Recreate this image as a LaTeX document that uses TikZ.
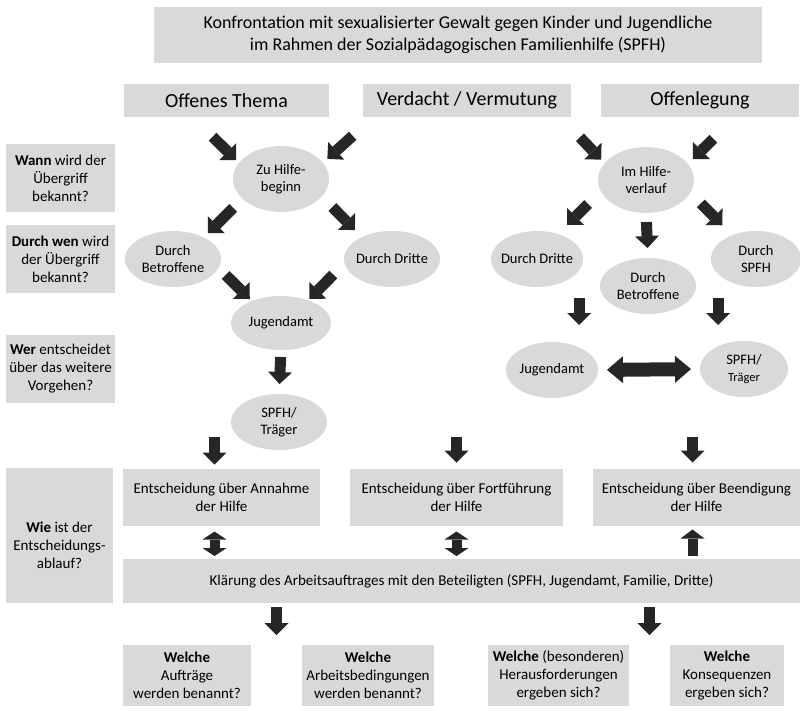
\documentclass[tikz,border=0pt]{standalone}
\usepackage{fontspec}
\setmainfont{Carlito}
\usetikzlibrary{shapes.geometric,arrows.meta,calc}

\definecolor{boxgray}{RGB}{217,217,217}
\definecolor{arrowgray}{RGB}{38,38,38}

\tikzset{
  greybox/.style={rectangle, fill=boxgray, inner sep=0pt, outer sep=0pt, align=center, font=\fontsize{15}{18}\selectfont},
  bubble/.style={ellipse, fill=boxgray, inner xsep=-5pt, inner ysep=0pt, outer sep=0pt, align=center, font=\fontsize{14.5}{17.5}\selectfont},
  blockarrow/.style={draw=arrowgray, line width=11pt, -{Triangle[width=24pt,length=12pt,line width=0pt]}},
  dblarrow/.style={draw=arrowgray, line width=10pt, {Triangle[width=24pt,length=8pt,line width=0pt]}-{Triangle[width=24pt,length=8pt,line width=0pt]}},
  uparrow/.style={draw=arrowgray, line width=10pt, -{Triangle[width=24pt,length=9pt,line width=0pt]}},
  bigdblarrow/.style={draw=arrowgray, line width=14pt, {Triangle[width=27pt,length=16pt,line width=0pt]}-{Triangle[width=27pt,length=16pt,line width=0pt]}}
}

\begin{document}
\begin{tikzpicture}[x=1pt, y=-1pt]
\useasboundingbox (0,0) rectangle (800,710);

\node [greybox, font=\fontsize{18}{22}\selectfont, minimum width=608, minimum height=56] (title) at (458,35)
  {Konfrontation mit sexualisierter Gewalt gegen Kinder und Jugendliche\\im Rahmen der Sozialpädagogischen Familienhilfe (SPFH)};

\node [greybox, font=\fontsize{20}{24}\selectfont, minimum width=205, minimum height=33] (head-1) at (226.5,100.5) {Offenes Thema};
\node [greybox, font=\fontsize{20}{24}\selectfont, minimum width=208, minimum height=33] (head-2) at (467,100.5) {Verdacht / Vermutung};
\node [greybox, font=\fontsize{20}{24}\selectfont, minimum width=198, minimum height=33] (head-3) at (700,100.5) {Offenlegung};

\foreach \y/\t [count=\i] in {178/{\textbf{Wann} wird der\\Übergriff\\bekannt?},
                              259/{\textbf{Durch wen} wird\\der Übergriff\\bekannt?},
                              368.5/{\textbf{Wer} entscheidet\\über das weitere\\Vorgehen?}}
  \node [greybox, minimum width=109, minimum height=68] (question-\i) at (60.5,\y) {\t};
\node [greybox, minimum width=107, minimum height=135, text height=66pt] (question-4) at (59.5,535.5) {\textbf{Wie} ist der\\Entscheidungs-\\ablauf?};

\node [bubble, minimum width=96, minimum height=66] (hilfebeginn) at (281,179) {Zu Hilfe-\\beginn};
\node [bubble, minimum width=96, minimum height=56] (betroffene-l) at (173,259) {Durch\\Betroffene};
\node [bubble, minimum width=96, minimum height=56] (dritte-l) at (392,259) {Durch Dritte};
\node [bubble, minimum width=100, minimum height=54] (jugendamt-l) at (281,323) {Jugendamt};
\node [bubble, minimum width=96, minimum height=56] (traeger-l) at (279,422) {SPFH/\\Träger};

\node [bubble, minimum width=96, minimum height=66] (hilfeverlauf) at (646,180) {Im Hilfe-\\verlauf};
\node [bubble, minimum width=92, minimum height=56] (dritte-r) at (537,259) {Durch Dritte};
\node [bubble, minimum width=96, minimum height=56] (betroffene-r) at (648,286) {Durch\\Betroffene};
\node [bubble, minimum width=90, minimum height=56] (spfh-r) at (756,259) {Durch\\SPFH};
\node [bubble, minimum width=92, minimum height=56] (jugendamt-r) at (552,370) {Jugendamt};
\node [bubble, minimum width=88, minimum height=56] (traeger-r) at (744,369) {SPFH/\\{\fontsize{12.5}{14}\selectfont Träger}};

\foreach \x/\w/\t [count=\i] in {221.5/197/Annahme, 456.5/213/Fortführung, 696.5/207/Beendigung}
  \node [greybox, minimum width=\w, minimum height=57] (decision-\i) at (\x,497) {Entscheidung über \t\\der Hilfe};

\node [greybox, minimum width=677, minimum height=44] (clarify) at (461.5,581)
  {Klärung des Arbeitsauftrages mit den Beteiligten (SPFH, Jugendamt, Familie, Dritte)};

\foreach \x/\w/\t [count=\i] in {187/128/{\textbf{Welche}\\Aufträge\\werden benannt?},
                                 368/132/{\textbf{Welche}\\Arbeitsbedingungen\\werden benannt?},
                                 558.5/141/{\textbf{Welche} (besonderen)\\Herausforderungen\\ergeben sich?},
                                 727/114/{\textbf{Welche}\\Konsequenzen\\ergeben sich?}}
  \node [greybox, minimum width=\w, minimum height=61] (result-\i) at (\x,675.5) {\t};

\draw [blockarrow, shorten <=28pt, shorten >=4pt] (head-1.206) -- (hilfebeginn.159);
\draw [blockarrow, shorten <=28pt, shorten >=6pt] (head-2.190) -- (hilfebeginn.21);
\draw [blockarrow, shorten <=13pt, shorten >=6pt] (hilfebeginn.207) -- (betroffene-l.35);
\draw [blockarrow, shorten <=15pt, shorten >=10pt] (hilfebeginn.337) -- (dritte-l.144);
\draw [blockarrow, shorten <=10pt, shorten >=3pt] (betroffene-l.349) -- (jugendamt-l.143);
\draw [blockarrow, shorten <=16pt, shorten >=2pt] (dritte-l.185) -- (jugendamt-l.40);
\draw [blockarrow, shorten <=7pt, shorten >=10pt] (jugendamt-l.south) -- (traeger-l.north);

\draw [blockarrow, shorten <=28pt, shorten >=5pt] (head-2.350) -- (hilfeverlauf.158);
\draw [blockarrow, shorten <=31pt, shorten >=7pt] (head-3.335) -- (hilfeverlauf.21);
\draw [blockarrow, shorten <=18pt, shorten >=13pt] (hilfeverlauf.194) -- (dritte-r.50);
\draw [blockarrow, shorten <=9pt, shorten >=10pt] (hilfeverlauf.south) -- (betroffene-r.north);
\draw [blockarrow, shorten <=15pt, shorten >=14pt] (hilfeverlauf.344) -- (spfh-r.135);
\draw [blockarrow, shorten <=11pt, shorten >=17pt] ($(jugendamt-r.north |- dritte-r.south)+(27,0)$) -- ($(jugendamt-r.north)+(27,0)$);
\draw [blockarrow, shorten <=11pt, shorten >=16pt] ($(traeger-r.north |- spfh-r.south)+(-26,0)$) -- ($(traeger-r.north)+(-26,0)$);
\draw [bigdblarrow, shorten <=9pt, shorten >=9pt] (jugendamt-r.east) -- (traeger-r.west);

\draw [blockarrow, shorten >=4pt] ($(decision-1.north |- traeger-l.200)+(-7,0)$) -- ($(decision-1.north)+(-7,0)$);
\draw [blockarrow, shorten >=6pt] (decision-2.north |- traeger-l.200) -- (decision-2.north);
\draw [blockarrow, shorten >=6pt] ($(decision-3.north |- traeger-l.200)+(-4,0)$) -- ($(decision-3.north)+(-4,0)$);

\draw [dblarrow, shorten <=6pt, shorten >=3pt] ($(decision-1.south)+(-7,0)$) -- ($(decision-1.south |- clarify.north)+(-7,0)$);
\draw [dblarrow, shorten <=6pt, shorten >=3pt] (decision-2.south) -- (decision-2.south |- clarify.north);
\draw [uparrow, shorten <=3pt, shorten >=4pt] ($(decision-3.south |- clarify.north)+(-4,0)$) -- ($(decision-3.south)+(-4,0)$);

\coordinate (split-1) at ($(result-1.north east)!.5!(result-2.north west)$);
\coordinate (split-2) at ($(result-3.north east)!.5!(result-4.north west)$);
\draw [blockarrow, shorten <=4pt, shorten >=10pt] (clarify.south -| split-1) -- (split-1);
\draw [blockarrow, shorten <=4pt, shorten >=10pt] (clarify.south -| split-2) -- (split-2);

\end{tikzpicture}
\end{document}
